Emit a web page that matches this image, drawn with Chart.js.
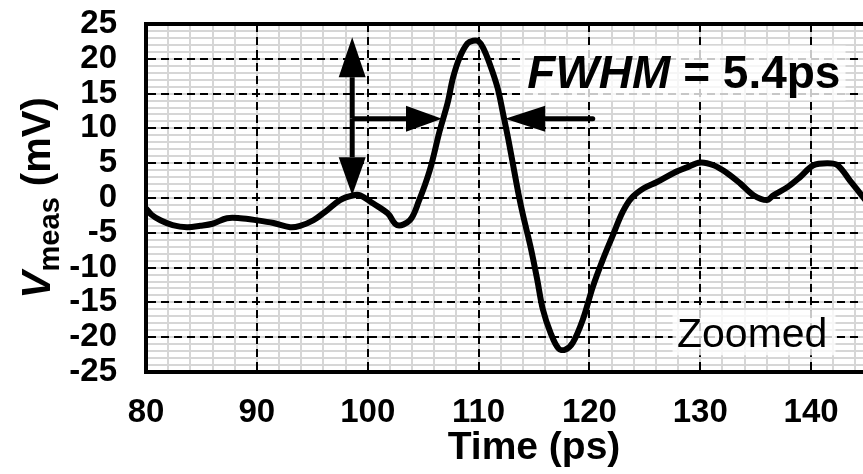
<!DOCTYPE html>
<html lang="en">
<head>
<meta charset="UTF-8" />
<title>Vmeas vs Time (zoomed)</title>
<script src="https://cdn.jsdelivr.net/npm/chart.js"></script>
<style>
  html, body { margin: 0; padding: 0; overflow: hidden; background: #fff; }
  /* the plot runs a little past the right edge of the window, like the source figure */
  #wrap { width: 925px; height: 474px; }
</style>
</head>
<body>
<div id="wrap"><canvas id="pulseChart" width="925" height="474"></canvas></div>
<script>
  const timePs = [
    80.0, 80.5, 81.3, 82.4, 83.7, 84.9, 86.0, 87.3, 88.5, 90.0,
    91.5, 93.0, 93.9, 95.1, 96.3, 97.5, 98.7, 99.3, 100.5, 101.8,
    102.65, 103.8, 104.6, 105.6, 106.5, 107.2, 107.7, 108.3, 109.0, 109.5,
    110.0, 110.4, 111.0, 111.7, 112.2, 112.7, 113.2, 113.6, 114.0, 114.7,
    115.3, 115.8, 116.5, 117.2, 117.8, 118.5, 119.4, 120.3, 121.2, 122.1,
    123.0, 123.8, 124.9, 126.1, 127.6, 128.8, 130.0, 131.2, 132.4, 133.6,
    134.8, 136.0, 136.6, 137.9, 139.0, 140.2, 141.5, 142.4, 143.5, 144.7,
    145.5
  ];
  const vMeas = [
    -1.5, -2.4, -3.2, -3.9, -4.2, -4.0, -3.7, -2.9, -2.9, -3.2,
    -3.6, -4.2, -4.0, -3.2, -1.8, -0.3, 0.4, 0.4, -0.8, -2.2,
    -3.9, -3.2, -0.5, 4.0, 9.7, 13.6, 17.3, 20.2, 22.2, 22.6,
    22.5, 21.6, 19.3, 15.9, 12.2, 8.3, 4.0, 0.6, -2.4, -7.1,
    -11.8, -16.0, -19.4, -21.6, -21.8, -20.8, -17.5, -12.8, -8.9, -5.4,
    -2.0, 0.0, 1.4, 2.3, 3.6, 4.4, 5.1, 4.7, 3.6, 2.1,
    0.4, -0.3, 0.4, 1.6, 3.0, 4.7, 5.0, 4.7, 2.5, 0.1,
    -1.5
  ];

  // axes
  const xRange = [80, 150];
  const xMajorStep = 10;
  const xMinorStep = 2;
  const yRange = [-25, 25];
  const yMajorStep = 5;
  const yMinorStep = 1;

  // annotations (data units)
  const fwhmText = ["FWHM", " = 5.4ps"];
  const fwhmBox = { x0: 113.75, x1: 143.1, y0: 21.9, y1: 14.0 };
  const fwhmAnchor = { x: 114.4, y: 15.75 };
  const zoomText = "Zoomed";
  const zoomBox = { x0: 127.5, x1: 142.2, y0: -16.1, y1: -22.6 };
  const zoomAnchor = { x: 127.9, y: -21.4 };
  const vArrow = { x: 98.6, yTop: 23.1, yBottom: 0.4 };
  const halfMax = 11.4;
  const leftArrow = { from: 98.6, to: 106.7 };
  const rightArrow = { from: 120.3, to: 112.4 };

  const FONT = "'Liberation Sans', Arial, Helvetica, sans-serif";
  Chart.defaults.font.family = FONT;
  Chart.defaults.color = "#000";

  function arrow(ctx, x0, y0, x1, y1, headLen, headHalf) {
    const ang = Math.atan2(y1 - y0, x1 - x0);
    const bx = x1 - headLen * Math.cos(ang);
    const by = y1 - headLen * Math.sin(ang);
    ctx.beginPath();
    ctx.moveTo(x0, y0);
    ctx.lineTo(bx, by);
    ctx.stroke();
    ctx.beginPath();
    ctx.moveTo(x1, y1);
    ctx.lineTo(bx + headHalf * Math.sin(ang), by - headHalf * Math.cos(ang));
    ctx.lineTo(bx - headHalf * Math.sin(ang), by + headHalf * Math.cos(ang));
    ctx.closePath();
    ctx.fill();
  }

  // keep chart.js from reserving room for overhanging tick labels
  function noPadding(s) {
    s.paddingTop = 0;
    s.paddingBottom = 0;
    s.paddingLeft = 0;
    s.paddingRight = 0;
  }

  const annotate = {
    id: "annotate",
    afterDatasetsDraw(chart) {
      const ctx = chart.ctx;
      const xs = chart.scales.x;
      const ys = chart.scales.y;
      const px = (v) => xs.getPixelForValue(v);
      const py = (v) => ys.getPixelForValue(v);

      ctx.save();
      // label boxes
      ctx.fillStyle = "rgba(255,255,255,0.78)";
      ctx.fillRect(px(fwhmBox.x0), py(fwhmBox.y0), px(fwhmBox.x1) - px(fwhmBox.x0), py(fwhmBox.y1) - py(fwhmBox.y0));
      ctx.fillRect(px(zoomBox.x0), py(zoomBox.y0), px(zoomBox.x1) - px(zoomBox.x0), py(zoomBox.y1) - py(zoomBox.y0));

      ctx.fillStyle = "#000";
      ctx.textBaseline = "alphabetic";
      ctx.textAlign = "left";
      let tx = px(fwhmAnchor.x);
      ctx.font = "italic bold 46px " + FONT;
      ctx.fillText(fwhmText[0], tx, py(fwhmAnchor.y));
      tx += ctx.measureText(fwhmText[0]).width;
      ctx.font = "bold 46px " + FONT;
      ctx.fillText(fwhmText[1], tx, py(fwhmAnchor.y));

      ctx.font = "41px " + FONT;
      ctx.fillText(zoomText, px(zoomAnchor.x), py(zoomAnchor.y));

      // arrows
      ctx.strokeStyle = "#000";
      ctx.lineWidth = 5;
      ctx.lineCap = "butt";
      const ax = px(vArrow.x);
      const midY = py(halfMax);
      arrow(ctx, ax, midY, ax, py(vArrow.yTop), 40, 13.5);
      arrow(ctx, ax, midY, ax, py(vArrow.yBottom), 38, 13.5);
      arrow(ctx, ax, midY, px(leftArrow.to), midY, 36, 13);
      ctx.lineCap = "round";
      arrow(ctx, px(rightArrow.from), midY, px(rightArrow.to), midY, 40, 13);
      ctx.restore();
    },
    afterDraw(chart) {
      // y axis title with subscript
      const ctx = chart.ctx;
      const area = chart.chartArea;
      const parts = [
        { t: "V", f: "italic bold 41px " + FONT, dy: 0 },
        { t: "meas", f: "bold 29px " + FONT, dy: 9 },
        { t: " (mV)", f: "bold 40px " + FONT, dy: 0 }
      ];
      ctx.save();
      let total = 0;
      parts.forEach((p) => { ctx.font = p.f; p.w = ctx.measureText(p.t).width; total += p.w; });
      const cy = (area.top + area.bottom) / 2;
      ctx.translate(50, cy + total / 2);
      ctx.rotate(-Math.PI / 2);
      ctx.fillStyle = "#000";
      ctx.textBaseline = "alphabetic";
      let x = 0;
      parts.forEach((p) => { ctx.font = p.f; ctx.fillText(p.t, x, p.dy); x += p.w; });
      ctx.restore();
    }
  };

  const majorDash = [8, 5];

  new Chart(document.getElementById("pulseChart"), {
    type: "line",
    data: {
      labels: timePs,
      datasets: [{
        data: timePs.map((t, i) => ({ x: t, y: vMeas[i] })),
        borderColor: "#000",
        borderWidth: 6,
        pointRadius: 0,
        tension: 0.35,
        fill: false,
        xAxisID: "x",
        yAxisID: "y"
      }]
    },
    options: {
      responsive: false,
      animation: false,
      layout: { padding: { top: 24, right: 3, left: 0, bottom: 0 } },
      plugins: { legend: { display: false }, tooltip: { enabled: false } },
      scales: {
        x: {
          type: "linear",
          position: "bottom",
          min: xRange[0],
          max: xRange[1],
          afterFit: (s) => { s.height = 102; noPadding(s); },
          ticks: {
            stepSize: xMajorStep,
            autoSkip: false,
            maxRotation: 0,
            padding: 21,
            font: { size: 33, weight: "bold" },
            color: "#000"
          },
          grid: { color: "#000", lineWidth: 2, drawTicks: false, z: -1 },
          border: { display: true, color: "#000", width: 4, dash: majorDash },
          title: {
            display: true,
            text: "Time (ps)",
            font: { size: 39, weight: "bold" },
            color: "#000",
            padding: { top: 0, bottom: 2 }
          }
        },
        xMinor: {
          type: "linear",
          position: "top",
          min: xRange[0],
          max: xRange[1],
          afterFit: (s) => { s.height = 0; noPadding(s); },
          ticks: { stepSize: xMinorStep, display: false },
          grid: { color: "#d6d6d6", lineWidth: 2, drawTicks: false, z: -2 },
          border: { display: true, color: "#000", width: 4 }
        },
        y: {
          type: "linear",
          position: "left",
          min: yRange[0],
          max: yRange[1],
          afterFit: (s) => { s.width = 146; noPadding(s); },
          ticks: {
            stepSize: yMajorStep,
            autoSkip: false,
            padding: 29,
            font: { size: 33, weight: "bold" },
            color: "#000",
            callback: (v) => String(v)
          },
          grid: { color: "#000", lineWidth: 2, drawTicks: false, z: -1 },
          border: { display: true, color: "#000", width: 4, dash: majorDash }
        },
        yMinor: {
          type: "linear",
          position: "right",
          min: yRange[0],
          max: yRange[1],
          afterFit: (s) => { s.width = 0; noPadding(s); },
          ticks: { stepSize: yMinorStep, display: false },
          grid: { color: "#d6d6d6", lineWidth: 2, drawTicks: false, z: -2 },
          border: { display: false }
        }
      }
    },
    plugins: [annotate]
  });
</script>
</body>
</html>
